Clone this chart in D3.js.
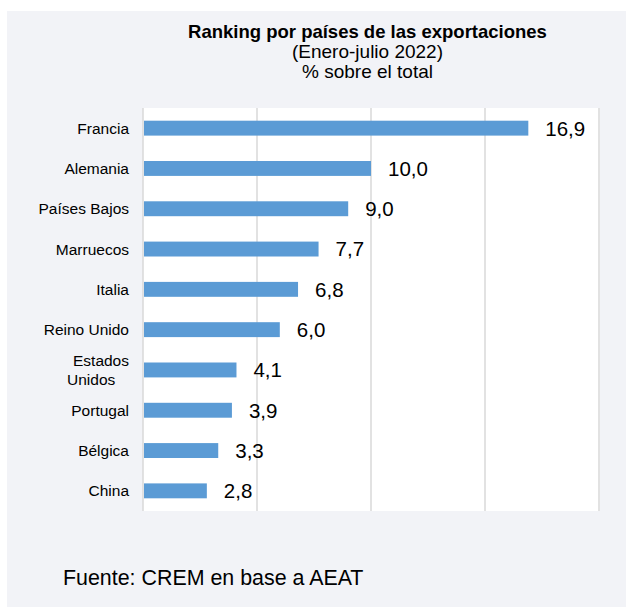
<!DOCTYPE html>
<html>
<head>
<meta charset="utf-8">
<script src="https://cdn.jsdelivr.net/npm/d3@7"></script>
<style>
  body { margin: 0; background: #fff; }
  text { font-family: "Liberation Sans", Arial, sans-serif; }
</style>
</head>
<body>
<div class="chart"></div>
<script>
const countries = ["Francia", "Alemania", "Países Bajos", "Marruecos", "Italia",
    "Reino Unido", "Estados Unidos", "Portugal", "Bélgica", "China"]
const shares = [16.9, 10.0, 9.0, 7.7, 6.8, 6.0, 4.1, 3.9, 3.3, 2.8]
const xTicks = [0, 5, 10, 15, 20]
const titleLines = ["Ranking por países de las exportaciones", "(Enero-julio 2022)", "% sobre el total"]
const source = "Fuente: CREM en base a AEAT"

const W = 626, H = 607
const plot = { left: 143, right: 600, top: 108, bottom: 511 }

const svg = d3.select(".chart").append("svg")
    .attr("width", W)
    .attr("height", H)

svg.append("rect")
    .attr("x", 7).attr("y", 11)
    .attr("width", W - 7).attr("height", H - 11)
    .attr("fill", "#f2f3f7")

svg.append("rect")
    .attr("x", plot.left).attr("y", plot.top)
    .attr("width", plot.right - plot.left).attr("height", plot.bottom - plot.top)
    .attr("fill", "#fff")

const x = d3.scaleLinear()
    .domain([0, 20])
    .range([plot.left, plot.left + 456])

const y = d3.scaleBand()
    .domain(countries)
    .range([plot.top, plot.bottom])
    .paddingInner(0.63)
    .paddingOuter(0.315)

// gridlines
svg.append("g")
    .selectAll("line")
    .data(xTicks)
    .join("line")
    .attr("x1", d => x(d)).attr("x2", d => x(d))
    .attr("y1", plot.top).attr("y2", plot.bottom)
    .attr("stroke", "#d9d9d9")
    .attr("stroke-width", 1.5)

// bars
svg.append("g")
    .selectAll("rect")
    .data(countries)
    .join("rect")
    .attr("x", x(0) + 1)
    .attr("y", d => y(d))
    .attr("width", (d, i) => x(shares[i]) - x(0) - 1)
    .attr("height", y.bandwidth())
    .attr("fill", "#5b9bd5")

// value labels
svg.append("g")
    .selectAll("text")
    .data(countries)
    .join("text")
    .attr("x", (d, i) => x(shares[i]) + 17)
    .attr("y", d => y(d) + y.bandwidth() / 2)
    .attr("dy", "0.36em")
    .attr("font-size", 20.5)
    .attr("fill", "#000")
    .text((d, i) => d3.format(".1f")(shares[i]).replace(".", ","))

// category labels
const catG = svg.append("g")
    .attr("font-size", 15.5)
    .attr("fill", "#000")

countries.forEach(d => {
    const cy = y(d) + y.bandwidth() / 2
    if (d === "Estados Unidos") {
        catG.append("text")
            .attr("x", 129).attr("y", cy - 4)
            .attr("text-anchor", "end")
            .text("Estados")
        catG.append("text")
            .attr("x", 67).attr("y", cy + 15)
            .text("Unidos")
    } else {
        catG.append("text")
            .attr("x", 129).attr("y", cy)
            .attr("dy", "0.36em")
            .attr("text-anchor", "end")
            .text(d)
    }
})

// titles
svg.append("g")
    .selectAll("text")
    .data(titleLines)
    .join("text")
    .attr("x", 367.5)
    .attr("y", (d, i) => 38 + i * 20)
    .attr("text-anchor", "middle")
    .attr("font-size", (d, i) => i === 0 ? 18.5 : 19)
    .attr("font-weight", (d, i) => i === 0 ? "bold" : "normal")
    .text(d => d)

svg.append("text")
    .attr("x", 63)
    .attr("y", 585)
    .attr("font-size", 21.4)
    .text(source)
</script>
</body>
</html>
